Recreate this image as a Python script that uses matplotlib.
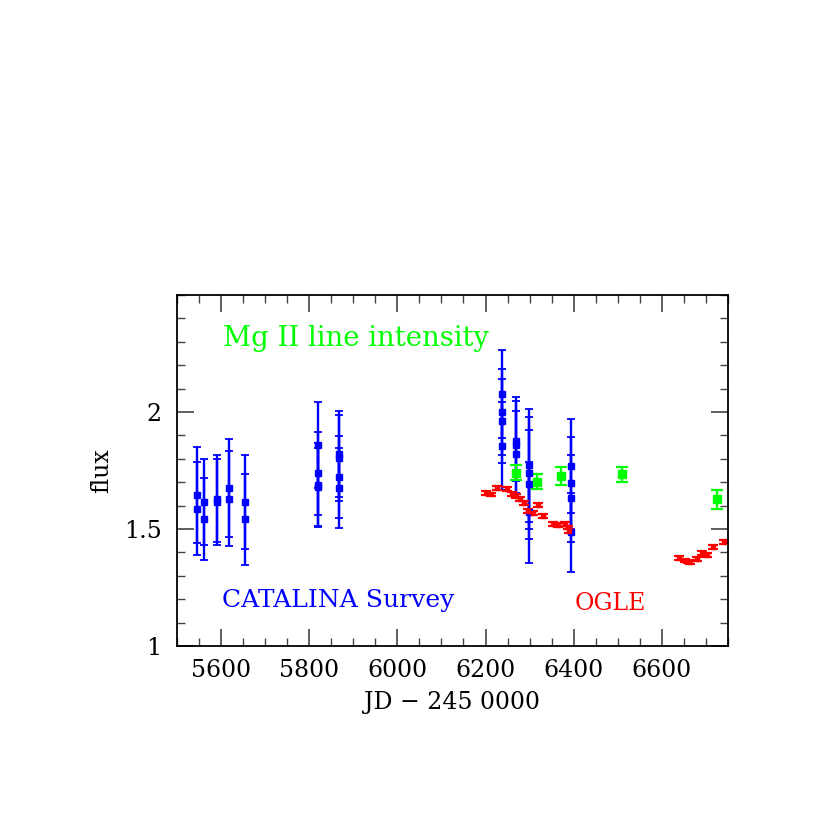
import matplotlib
matplotlib.use('Agg')
import matplotlib.pyplot as plt
import numpy as np
from matplotlib.ticker import MultipleLocator

plt.rcParams['font.family'] = ['DejaVu Serif']

# CATALINA Survey photometry
catalina_jd = [5545, 5545, 5561, 5561, 5590, 5590, 5619, 5619, 5655, 5655,
               5821, 5821, 5821, 5821, 5868, 5868, 5868, 5868,
               6237, 6237, 6237, 6237, 6268, 6268, 6268,
               6299, 6299, 6299, 6299, 6394, 6394, 6394, 6394]
catalina_flux = [1.645, 1.587, 1.616, 1.542, 1.630, 1.614, 1.675, 1.630, 1.616, 1.542,
                 1.859, 1.739, 1.688, 1.680, 1.821, 1.804, 1.722, 1.675,
                 2.076, 2.000, 1.962, 1.855, 1.878, 1.858, 1.822,
                 1.772, 1.738, 1.691, 1.572, 1.769, 1.695, 1.631, 1.486]
catalina_err = [0.206, 0.199, 0.184, 0.174, 0.185, 0.184, 0.209, 0.203, 0.202, 0.194,
                0.185, 0.177, 0.180, 0.167, 0.185, 0.185, 0.176, 0.170,
                0.188, 0.182, 0.178, 0.187, 0.171, 0.205, 0.184,
                0.241, 0.239, 0.232, 0.216, 0.200, 0.197, 0.187, 0.170]

# Mg II line intensity
mgii_jd = [6269, 6316, 6372, 6510, 6724]
mgii_flux = [1.741, 1.702, 1.727, 1.734, 1.627]
mgii_err = [0.032, 0.031, 0.039, 0.031, 0.041]

# OGLE photometry
ogle_jd = [6200, 6212, 6227, 6248, 6259, 6269, 6278, 6287, 6297, 6308, 6319,
           6331, 6352, 6365, 6380, 6386, 6390,
           6639, 6653, 6665, 6680, 6690, 6702, 6717, 6742]
ogle_flux = [1.655, 1.648, 1.674, 1.670, 1.650, 1.642, 1.627, 1.610, 1.578, 1.567, 1.603,
             1.556, 1.523, 1.516, 1.523, 1.507, 1.493,
             1.377, 1.365, 1.360, 1.371, 1.399, 1.389, 1.424, 1.444]
ogle_err = [0.008] * len(ogle_jd)

fig = plt.figure(figsize=(8.22, 8.22), dpi=100)
ax = fig.add_axes([0.2153, 0.2141, 0.6703, 0.4270])

ax.errorbar(catalina_jd, catalina_flux, yerr=catalina_err, fmt='s', color='#0000ff',
            markersize=4, elinewidth=1.7, capsize=3, capthick=1.3)
ax.errorbar(mgii_jd, mgii_flux, yerr=mgii_err, fmt='s', color='#00ff00',
            markersize=6, elinewidth=1.6, capsize=4, capthick=1.6)
ax.errorbar(ogle_jd, ogle_flux, yerr=ogle_err, fmt='s', color='#ff0000',
            markersize=3.5, elinewidth=1.6, capsize=3.5, capthick=1.6)

ax.set_xlim(5500, 6750)
ax.set_ylim(1, 2.5)
ax.xaxis.set_major_locator(MultipleLocator(200))
ax.xaxis.set_minor_locator(MultipleLocator(50))
ax.yaxis.set_minor_locator(MultipleLocator(0.1))
ax.set_yticks([1, 1.5, 2])
ax.set_yticklabels(['1', '1.5', '2'])
ax.tick_params(which='both', direction='in', top=True, right=True,
               labelsize=17, color='#444444')
ax.tick_params(which='major', length=12, width=1.2)
ax.tick_params(axis='x', which='major', pad=9)
ax.tick_params(axis='y', which='major', pad=11)
ax.tick_params(which='minor', length=6, width=1.0)
for s in ax.spines.values():
    s.set_linewidth(1.3)

ax.set_xlabel('JD \u2212 245 0000', fontsize=17, labelpad=7)
ax.set_ylabel('flux', fontsize=17, labelpad=8)

ax.text(5604, 2.280, 'Mg II line intensity', color='#00ff00', fontsize=19.8, va='baseline')
ax.text(5602, 1.167, 'CATALINA Survey', color='#0000ff', fontsize=18, va='baseline')
ax.text(6403, 1.154, 'OGLE', color='#ff0000', fontsize=17, va='baseline')

fig.savefig('out.png', dpi=100)
